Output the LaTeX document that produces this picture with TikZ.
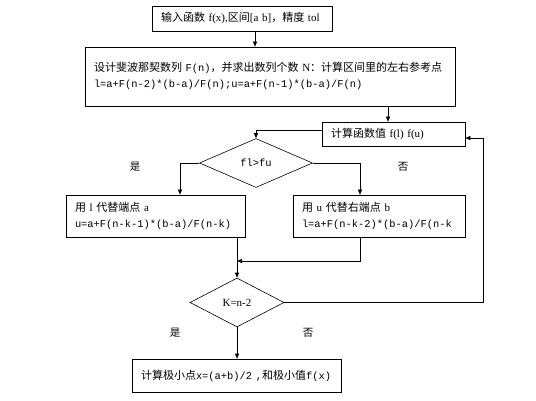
\documentclass[tikz,border=0pt]{standalone}
\usepackage{fontspec}
\setmainfont{Liberation Serif}
\setmonofont{Liberation Mono}
\newfontfamily\cjk{Noto Sans CJK SC}
\usetikzlibrary{shapes.geometric,arrows.meta,calc}
\newcommand{\mymono}[1]{{\ttfamily\fontsize{10.4}{16}\selectfont #1}}
\begin{document}
\begin{tikzpicture}[x=1pt,y=-1pt,
  box/.style={draw, line width=0.6pt, rectangle, inner xsep=9pt, inner ysep=0pt, align=left,
    font=\fontsize{11}{16}\selectfont},
  dia/.style={draw, line width=0.6pt, diamond, inner sep=0pt, font=\fontsize{11}{13}\selectfont},
  ln/.style={line width=0.6pt},
  arr/.style={line width=0.6pt, -{Triangle[length=5pt,width=4pt]}},
  lbl/.style={font=\cjk\fontsize{10.5}{13}\selectfont, inner sep=0pt}]
\useasboundingbox (0,0) rectangle (536,401);
\fill[white] (0,0) rectangle (536,401);

\node[box, minimum width=180pt, minimum height=25pt, text width=162pt] (b1) at (242,18.5)
  {{\cjk 输入函数} f(x),{\cjk 区间}[a b]{\cjk ，精度} tol};
\node[box, minimum width=370pt, minimum height=59pt, text width=352pt] (b2) at (270,76.5)
  {\mbox{}\\[-8pt]{\cjk 设计斐波那契数列} \mymono{F(n)}{\cjk ，并求出数列个数} N{\cjk ：计算区间里的左右参考点}\\
   \mymono{l=a+F(n-2)*(b-a)/F(n);u=a+F(n-1)*(b-a)/F(n)}};
\node[box, minimum width=143pt, minimum height=24pt, text width=125pt] (b3) at (393.5,134)
  {{\cjk 计算函数值} f(l) f(u)};
\node[dia, minimum width=113pt, minimum height=49pt] (d1) at (256,163) {\mymono{fl>fu}};
\node[box, minimum width=179pt, minimum height=42pt, text width=161pt] (b4) at (155.5,216)
  {{\cjk 用} l {\cjk 代替端点} a\\
   \mymono{u=a+F(n-k-1)*(b-a)/F(n-k)}};
\node[box, minimum width=172pt, minimum height=42pt, text width=154pt] (b5) at (379,216)
  {{\cjk 用} u {\cjk 代替右端点} b\\
   \mymono{l=a+F(n-k-2)*(b-a)/F(n-k}};
\node[dia, minimum width=94pt, minimum height=49pt] (d2) at (237,302.5) {K=n-2};
\node[box, minimum width=209pt, minimum height=33pt, text width=197pt, inner xsep=6pt] (b6) at (236.5,375.5)
  {\hspace{3pt}{\cjk 计算极小点}\mymono{x=(a+b)/2 ,}{\cjk 和极小值}\mymono{f(x)}};

\node[lbl] (y1) at (135,167) {是};
\node[lbl] (n1) at (403,167) {否};
\node[lbl] (y2) at (175,333) {是};
\node[lbl] (n2) at (308,333) {否};

\coordinate (c1) at (360,261);
\coordinate (c2) at (483,302.5);

\draw[arr] ($(b1.south)+(13,0)$) -- ($(b2.north)+(-15,0)$);
\draw[arr] ($(b2.south)+(118,0)$) -- ($(b3.north)+(-5.5,0)$);
\draw[arr] ([yshift=4pt]b3.west) -| (d1.north);
\draw[arr] (d1.west) -| ($(b4.north)+(24.5,0)$);
\draw[arr] (d1.east) -| ($(b5.north)+(-19,0)$);
\draw[arr] ($(b5.south)+(-19,0)$) |- (c1 -| d2.north);
\draw[arr] ($(b4.south)+(81.5,0)$) -- (d2.north);
\draw[arr] (d2.east) -- (c2) |- ([yshift=-4pt]b3.east);
\draw[arr] (d2.south) -- (b6.north -| d2.south);
\end{tikzpicture}
\end{document}
